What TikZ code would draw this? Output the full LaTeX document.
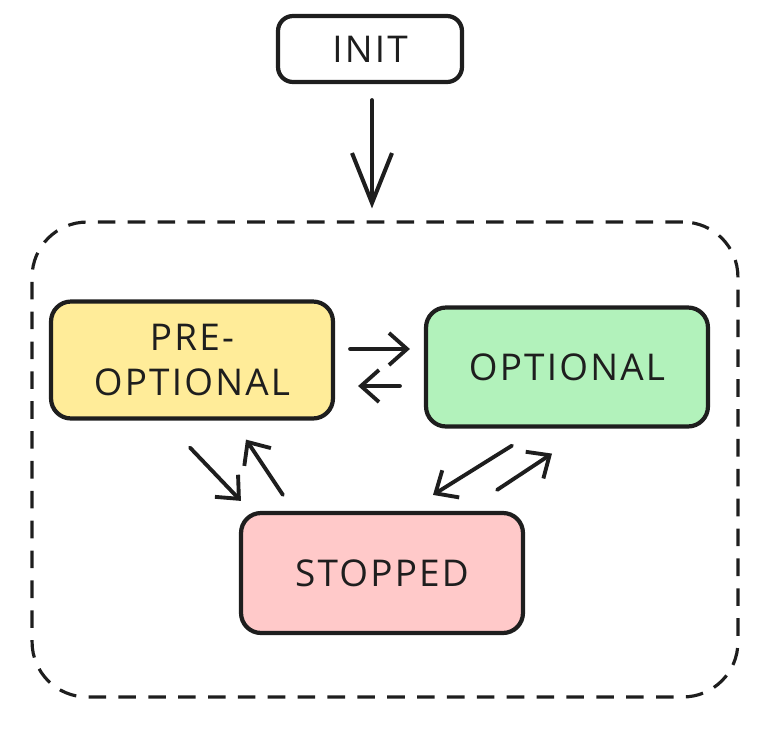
\documentclass[tikz,border=0pt]{standalone}
\usepackage{fontspec}
\newfontfamily\handfont[LetterSpace=6]{Open Sans}
\usetikzlibrary{positioning}
\usetikzlibrary{arrows.meta}
\usetikzlibrary{calc}

\definecolor{ink}{HTML}{1E1E1E}
\definecolor{preyellow}{HTML}{FFEC99}
\definecolor{optgreen}{HTML}{B2F2BB}
\definecolor{stopred}{HTML}{FFC9C9}

\begin{document}
\begin{tikzpicture}[
  x=0.02cm, y=-0.02cm,
  font=\handfont\fontsize{21}{26}\selectfont,
  state/.style={draw=ink, line width=2.4pt, rounded corners=0.4cm, align=center, minimum width=5.64cm, minimum height=2.34cm, text=ink},
  startbox/.style={draw=ink, line width=2.4pt, rounded corners=0.3cm, align=center, minimum width=3.68cm, minimum height=1.32cm, text=ink},
  group/.style={draw=ink, line width=1.8pt, dash pattern=on 10pt off 7pt, rounded corners=1.1cm, minimum width=14.12cm, minimum height=9.5cm},
  arrow/.style={-{Straight Barb[length=3.6mm, width=6.4mm]}, line width=2.2pt, ink, line cap=round},
  bigarrow/.style={-{Straight Barb[length=10mm, width=8mm]}, line width=2.3pt, ink, line cap=round}
]
\useasboundingbox (0,0) rectangle (765,741);

\node[startbox] (init) at (370,49) {INIT};
\node[group] (box) at (385,459.5) {};
\node[state, fill=preyellow] (pre) at (192,360) {PRE-\\OPTIONAL};
\node[state, fill=optgreen, minimum height=2.38cm] (opt) at (567,367) {OPTIONAL};
\node[state, fill=stopred, minimum height=2.4cm] (stop) at (382,573) {STOPPED};

% entry
\draw[bigarrow] ($(init.south)+(2,16)$) -- ($(box.north)+(-13,-12)$);

% pre <-> optional
\draw[arrow] ($(pre.east)+(15,-11)$) -- ($(opt.west)+(-14,-18)$);
\draw[arrow] ($(opt.west)+(-24,19)$) -- ($(pre.east)+(23,26)$);

% pre <-> stopped
\draw[arrow] ($(pre.south)+(-2,27)$) -- ($(stop.north west)+(2,-10)$);
\draw[arrow] ($(stop.north west)+(44,-16)$) -- ($(pre.south)+(54,19)$);

% optional <-> stopped
\draw[arrow] ($(opt.south)+(-55,17)$) -- ($(stop.north)+(51,-16)$);
\draw[arrow] ($(stop.north east)+(-28,-21)$) -- ($(opt.south)+(-15,25)$);

\end{tikzpicture}
\end{document}
